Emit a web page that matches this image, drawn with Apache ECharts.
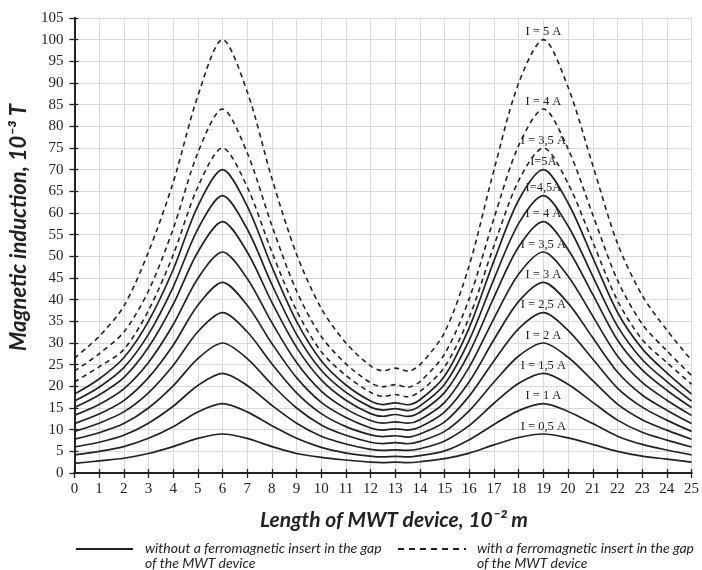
<!DOCTYPE html>
<html>
<head>
<meta charset="utf-8">
<script src="https://cdn.jsdelivr.net/npm/echarts@6/dist/echarts.min.js"></script>
<style>
  html, body { margin: 0; padding: 0; background: #fff; }
  #chart { width: 702px; height: 570px; }
</style>
</head>
<body>
<div id="chart"></div>
<script>
// positions along the device (10^-2 m)
var xs = [0, 1, 2, 3, 4, 5, 6, 7, 8, 9, 10, 11, 12, 12.5, 13, 13.5, 14, 15, 16, 17, 18, 19, 20, 21, 22, 23, 24, 25];

// without insert (solid), 0.5 A .. 5 A
var s05 = [2.2, 2.8, 3.4, 4.5, 6.1, 8.0, 9, 8.0, 6.1, 4.5, 3.6, 3.0, 2.5, 2.4, 2.5, 2.4, 2.6, 3.3, 4.6, 6.5, 8.2, 9, 8.1, 6.6, 5.0, 3.9, 3.2, 2.5];
var s10 = [4.2, 5.0, 6.1, 8.0, 10.7, 14.1, 16, 14.1, 10.9, 8.0, 5.9, 4.6, 3.9, 3.7, 3.85, 3.7, 4.0, 5.1, 7.7, 11.2, 14.4, 16, 14.2, 11.4, 8.5, 6.6, 5.3, 4.2];
var s15 = [6.0, 7.1, 8.7, 11.5, 15.4, 20.2, 23, 20.2, 15.6, 11.5, 8.5, 6.7, 5.45, 5.2, 5.35, 5.2, 5.6, 7.4, 11.0, 16.1, 20.7, 23, 20.5, 16.3, 12.2, 9.4, 7.6, 6.0];
var s20 = [7.8, 9.3, 11.4, 15, 20.1, 26.4, 30, 26.4, 20.4, 15, 11.1, 8.7, 7.1, 6.8, 7.0, 6.75, 7.3, 9.6, 14.4, 21, 27, 30, 26.7, 21.3, 15.9, 12.3, 9.9, 7.8];
var s25 = [9.6, 11.5, 14.1, 18.5, 24.8, 32.6, 37, 32.6, 25.2, 18.5, 13.7, 10.7, 8.8, 8.4, 8.6, 8.3, 9.0, 11.8, 17.8, 25.9, 33.3, 37, 32.9, 26.3, 19.6, 15.2, 12.2, 9.6];
var s30 = [11.4, 13.6, 16.7, 22, 29.5, 38.7, 44, 38.7, 29.9, 22, 16.3, 12.8, 10.4, 9.9, 10.2, 9.9, 10.6, 14.1, 21.1, 30.8, 39.6, 44, 39.2, 31.2, 23.3, 18.0, 14.5, 11.4];
var s35 = [13.3, 15.8, 19.4, 25.5, 34.2, 44.9, 51, 44.9, 34.7, 25.5, 18.9, 14.8, 12.1, 11.5, 11.8, 11.5, 12.3, 16.3, 24.5, 35.7, 45.9, 51, 45.4, 36.2, 27.0, 20.9, 16.8, 13.3];
var s40 = [15.1, 18.0, 22.0, 29, 38.9, 51.0, 58, 51.0, 39.4, 29, 21.5, 16.8, 13.7, 13.1, 13.5, 13.05, 14.0, 18.6, 27.8, 40.6, 52.2, 58, 51.6, 41.2, 30.7, 23.8, 19.1, 15.1];
var s45 = [16.6, 19.8, 24.3, 32, 42.9, 56.3, 64, 56.3, 43.5, 32, 23.7, 18.6, 15.2, 14.5, 14.85, 14.4, 15.5, 20.5, 30.7, 44.8, 57.6, 64, 57.0, 45.4, 33.9, 26.2, 21.1, 16.6];
var s50 = [18.2, 21.7, 26.6, 35, 46.9, 61.6, 70, 61.6, 47.6, 35, 25.9, 20.3, 16.6, 15.8, 16.2, 15.75, 16.9, 22.4, 33.6, 49, 63, 70, 62.3, 49.7, 37.1, 28.7, 23.1, 18.2];

// with insert (dashed), 3.5 A, 4 A, 5 A
var d35 = [21.0, 24.5, 28.5, 37.5, 50.3, 66, 75, 66, 51, 37.5, 28, 22.5, 18.6, 17.7, 18.1, 17.6, 18.8, 24.5, 36, 52.5, 67.5, 75, 66.8, 53.3, 39.8, 30.8, 25.5, 20.5];
var d40 = [23.5, 27.5, 32.5, 42, 56.3, 73.9, 84, 73.9, 57.1, 42, 31.5, 25.2, 20.8, 19.9, 20.4, 19.8, 21.1, 27.5, 40.3, 58.8, 75.6, 84, 74.8, 59.6, 44.5, 34.4, 28.2, 22.5];
var d50 = [26.5, 31.5, 38.5, 51, 67, 87, 100, 88, 68, 50.5, 38, 30, 24.7, 23.6, 24.2, 23.5, 25, 32.5, 48, 70, 90, 100, 89, 71, 53, 41, 33, 26];

var solidSets = [s05, s10, s15, s20, s25, s30, s35, s40, s45, s50];
var solidLabels = ['I = 0,5 A', 'I = 1 A', 'I = 1,5 A', 'I = 2 A', 'I = 2,5 A', 'I = 3 A', 'I = 3,5 A', 'I = 4 A', 'I=4,5A', 'I=5A'];
var dashedSets = [d35, d40, d50];
var dashedLabels = ['I = 3,5 A', 'I = 4 A', 'I = 5 A'];

var LABEL_AT = 19;
var INK = '#222';
var SERIF = '"Liberation Serif", "DejaVu Serif", serif';
var SANS = 'Lato, "Open Sans", "Liberation Sans", sans-serif';

function makeSeries(vals, label, dashed) {
  var i = xs.indexOf(LABEL_AT);
  return {
    type: 'line',
    name: dashed ? 'with' : 'without',
    data: xs.map(function (x, k) { return [x, vals[k]]; }),
    smooth: 0.3,
    showSymbol: false,
    silent: true,
    lineStyle: { color: INK, width: dashed ? 1.6 : 1.7, type: dashed ? [5, 4] : 'solid' },
    markPoint: {
      symbol: 'circle', symbolSize: 0, silent: true,
      data: [{ coord: [LABEL_AT, vals[i]] }],
      label: {
        show: true, position: 'top', distance: 1,
        formatter: label,
        fontFamily: SERIF, fontSize: 12.5, color: INK
      }
    }
  };
}

var series = [];
solidSets.forEach(function (v, k) { series.push(makeSeries(v, solidLabels[k], false)); });
dashedSets.forEach(function (v, k) { series.push(makeSeries(v, dashedLabels[k], true)); });

var chart = echarts.init(document.getElementById('chart'));
chart.setOption({
  backgroundColor: '#fff',
  animation: false,
  grid: { left: 73, right: 7, top: 18, bottom: 97 },
  xAxis: [{
    type: 'value', min: 0, max: 25, interval: 1,
    name: 'Length of MWT device, 10\u207B\u00B2 m',
    nameLocation: 'middle', nameGap: 37,
    nameTextStyle: { fontFamily: SANS, fontSize: 21, fontWeight: 'bold', fontStyle: 'italic', color: INK, padding: [0, 0, 0, 22] },
    axisLine: { lineStyle: { color: INK, width: 2 } },
    axisTick: { length: 5, lineStyle: { color: INK, width: 1.3 } },
    axisLabel: { margin: 9, fontFamily: SERIF, fontSize: 15, color: INK },
    splitLine: { show: true, lineStyle: { color: '#d9d9d9', width: 1 } }
  }, {
    type: 'value', min: 0, max: 25, interval: 1, position: 'bottom',
    axisLine: { show: true, lineStyle: { color: INK, width: 2 } },
    axisTick: { inside: true, length: 4, lineStyle: { color: INK, width: 1.3 } },
    axisLabel: { show: false }, splitLine: { show: false }
  }],
  yAxis: [{
    type: 'value', min: 0, max: 105, interval: 5,
    name: 'Magnetic induction, 10\u207B\u00B3 T',
    nameLocation: 'middle', nameGap: 42, nameRotate: 90,
    nameTextStyle: { fontFamily: SANS, fontSize: 22, fontWeight: 'bold', fontStyle: 'italic', color: INK, padding: [0, 0, 0, 36] },
    axisLine: { show: true, lineStyle: { color: INK, width: 2 } },
    axisTick: { show: true, length: 5, lineStyle: { color: INK, width: 1.3 } },
    axisLabel: { margin: 11, fontFamily: SERIF, fontSize: 15, color: INK },
    splitLine: { show: true, lineStyle: { color: '#d9d9d9', width: 1 } }
  }, {
    type: 'value', min: 0, max: 105, interval: 5, position: 'left',
    axisLine: { show: true, lineStyle: { color: INK, width: 2 } },
    axisTick: { show: true, inside: true, length: 4, lineStyle: { color: INK, width: 1.3 } },
    axisLabel: { show: false }, splitLine: { show: false }
  }],
  series: series,
  graphic: [
    { type: 'line', shape: { x1: 76, y1: 549, x2: 133, y2: 549 }, style: { stroke: INK, lineWidth: 2 } },
    { type: 'text', left: 145, top: 541, style: {
      text: 'without a ferromagnetic insert in the gap\nof the MWT device',
      font: 'italic 14px ' + SANS, fill: INK, lineHeight: 15 } },
    { type: 'line', shape: { x1: 398, y1: 549, x2: 466, y2: 549 }, style: { stroke: INK, lineWidth: 2, lineDash: [6, 5] } },
    { type: 'text', left: 477, top: 541, style: {
      text: 'with a ferromagnetic insert in the gap\nof the MWT device',
      font: 'italic 14px ' + SANS, fill: INK, lineHeight: 15 } }
  ]
});
</script>
</body>
</html>
